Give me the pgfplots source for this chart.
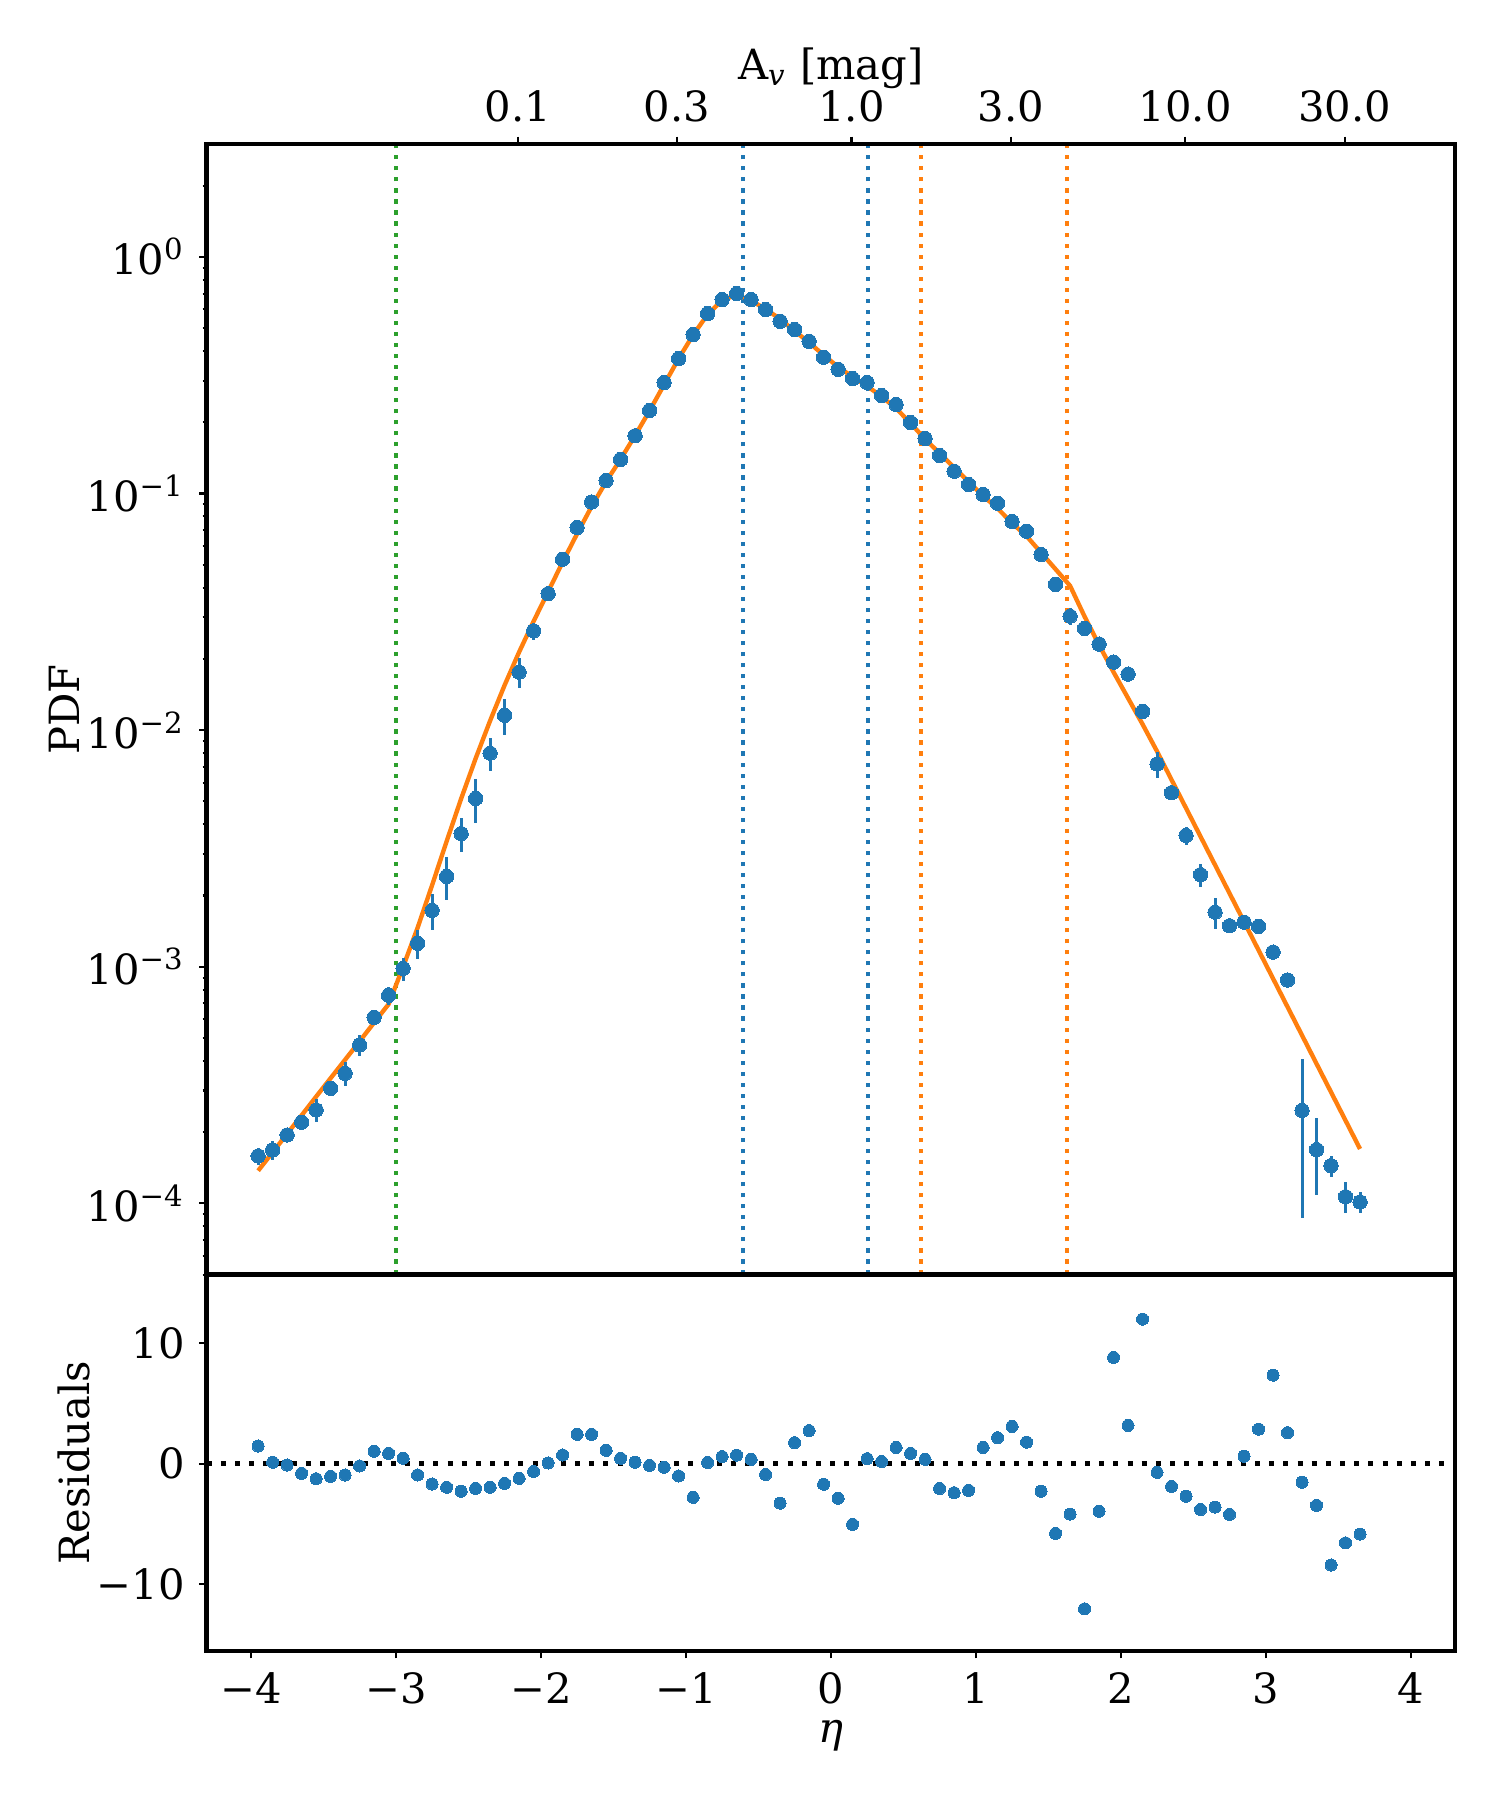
\documentclass[border=0pt]{standalone}
\usepackage{fontspec}
\setmainfont{DejaVu Serif}
\usepackage{pgfplots}
\pgfplotsset{compat=1.18}
\usepackage{pgfplotstable}
\definecolor{tabblue}{HTML}{1F77B4}
\definecolor{taborange}{HTML}{FF7F0E}
\definecolor{tabgreen}{HTML}{2CA02C}

\pgfplotstableread{
x y e
-3.95 1.586e-4 1.3e-5
-3.85 1.681e-4 1.6e-5
-3.75 1.945e-4 0.8e-5
-3.65 2.201e-4 1.0e-5
-3.55 2.481e-4 2.7e-5
-3.45 3.063e-4 1.7e-5
-3.35 3.544e-4 4.0e-5
-3.25 4.668e-4 4.8e-5
-3.15 6.111e-4 3.0e-5
-3.05 7.57e-4 6.5e-5
-2.95 9.84e-4 1.1e-4
-2.85 1.256e-3 1.8e-4
-2.75 1.731e-3 3.0e-4
-2.65 2.408e-3 5.0e-4
-2.55 3.653e-3 6.0e-4
-2.45 5.145e-3 1.1e-3
-2.35 7.99e-3 1.3e-3
-2.25 1.155e-2 2.0e-3
-2.15 1.758e-2 2.5e-3
-2.05 2.627e-2 2.2e-3
-1.95 3.772e-2 1.5e-3
-1.85 5.272e-2 1.2e-3
-1.75 7.18e-2 1.0e-3
-1.65 9.21e-2 1.2e-3
-1.55 0.1135 1.5e-3
-1.45 0.1393 2e-3
-1.35 0.1754 2e-3
-1.25 0.2244 2e-3
-1.15 0.2944 2e-3
-1.05 0.3718 3e-3
-0.95 0.4695 4e-3
-0.85 0.5761 4e-3
-0.75 0.6602 4e-3
-0.65 0.6998 4e-3
-0.55 0.6602 4e-3
-0.45 0.5988 4e-3
-0.35 0.5344 3e-3
-0.25 0.4931 3e-3
-0.15 0.4398 3e-3
-0.05 0.3764 3e-3
0.05 0.3350 3e-3
0.15 0.3060 2e-3
0.25 0.2944 2e-3
0.35 0.2594 2e-3
0.45 0.2377 2e-3
0.55 0.1995 2e-3
0.65 0.1708 2e-3
0.75 0.1447 2e-3
0.85 0.1242 1.5e-3
0.95 0.1091 1.5e-3
1.05 0.0990 1.5e-3
1.15 0.0910 1.5e-3
1.25 0.0761 1.5e-3
1.35 0.0693 1.5e-3
1.45 0.0552 1.2e-3
1.55 0.0413 1.0e-3
1.65 0.0303 2.5e-3
1.75 0.0269 5e-4
1.85 0.0231 4e-4
1.95 0.01938 2e-4
2.05 0.01724 1.2e-3
2.15 0.01199 1.2e-4
2.25 7.19e-3 9e-4
2.35 5.44e-3 2e-4
2.45 3.59e-3 3.2e-4
2.55 2.45e-3 2.7e-4
2.65 1.70e-3 2.6e-4
2.75 1.49e-3 1.0e-4
2.85 1.543e-3 8e-5
2.95 1.48e-3 8e-5
3.05 1.153e-3 5e-5
3.15 8.79e-4 6e-5
3.25 2.47e-4 1.6e-4
3.35 1.687e-4 6e-5
3.45 1.443e-4 1.5e-5
3.55 1.067e-4 1.6e-5
3.65 1.013e-4 1.0e-5
}\pdfdata

\pgfplotstableread{
x y
-3.95 1.374e-4
-3.85 1.644e-4
-3.75 1.968e-4
-3.65 2.355e-4
-3.55 2.825e-4
-3.45 3.381e-4
-3.35 4.046e-4
-3.25 4.842e-4
-3.15 5.808e-4
-3.05 6.950e-4
-2.95 1.000e-3
-2.85 1.462e-3
-2.75 2.213e-3
-2.65 3.388e-3
-2.55 5.129e-3
-2.45 7.586e-3
-2.35 1.096e-2
-2.25 1.549e-2
-2.15 2.138e-2
-2.05 2.884e-2
-1.95 3.846e-2
-1.85 5.129e-2
-1.75 6.761e-2
-1.65 8.810e-2
-1.55 0.1122
-1.45 0.1396
-1.35 0.1758
-1.25 0.2239
-1.15 0.2884
-1.05 0.3715
-0.95 0.4677
-0.85 0.5715
-0.75 0.6546
-0.65 0.6918
-0.55 0.6531
-0.45 0.6026
-0.35 0.5458
-0.25 0.4864
-0.15 0.4345
-0.05 0.3846
0.05 0.3428
0.15 0.3112
0.25 0.2844
0.35 0.2570
0.45 0.2291
0.55 0.1982
0.65 0.1698
0.75 0.1479
0.85 0.1288
0.95 0.1122
1.05 0.09772
1.15 0.08650
1.25 0.07499
1.35 0.06607
1.45 0.05623
1.55 0.04786
1.65 0.04074
1.75 0.03020
1.85 0.02291
1.95 0.01758
2.05 0.01365
2.15 0.01059
2.25 8.128e-3
2.35 6.166e-3
2.45 4.677e-3
2.55 3.548e-3
2.65 2.692e-3
2.75 2.042e-3
2.85 1.549e-3
2.95 1.175e-3
3.05 8.913e-4
3.15 6.761e-4
3.25 5.129e-4
3.35 3.890e-4
3.45 2.951e-4
3.55 2.239e-4
3.65 1.698e-4
}\modeldata

\pgfplotstableread{
x r
-3.95 1.47
-3.85 0.12
-3.75 -0.11
-3.65 -0.80
-3.55 -1.25
-3.45 -1.05
-3.35 -0.94
-3.25 -0.19
-3.15 1.03
-3.05 0.86
-2.95 0.45
-2.85 -0.94
-2.75 -1.69
-2.65 -1.96
-2.55 -2.29
-2.45 -2.05
-2.35 -1.96
-2.25 -1.63
-2.15 -1.22
-2.05 -0.64
-1.95 0.06
-1.85 0.72
-1.75 2.44
-1.65 2.44
-1.55 1.11
-1.45 0.45
-1.35 0.12
-1.25 -0.14
-1.15 -0.30
-1.05 -1.02
-0.95 -2.80
-0.85 0.10
-0.75 0.59
-0.65 0.71
-0.55 0.36
-0.45 -0.90
-0.35 -3.28
-0.25 1.75
-0.15 2.75
-0.05 -1.71
0.05 -2.88
0.15 -5.04
0.25 0.42
0.35 0.18
0.45 1.35
0.55 0.86
0.65 0.36
0.75 -2.06
0.85 -2.41
0.95 -2.21
1.05 1.35
1.15 2.16
1.25 3.10
1.35 1.79
1.45 -2.29
1.55 -5.79
1.65 -4.19
1.75 -12.06
1.85 -3.96
1.95 8.84
2.05 3.18
2.15 12.02
2.25 -0.72
2.35 -1.89
2.45 -2.70
2.55 -3.81
2.65 -3.61
2.75 -4.22
2.85 0.62
2.95 2.87
3.05 7.36
3.15 2.58
3.25 -1.54
3.35 -3.46
3.45 -8.42
3.55 -6.58
3.65 -5.85
}\resdata

\begin{document}
\begin{tikzpicture}
\useasboundingbox (0,0) rectangle (360bp,432bp);
\pgfplotsset{
  common/.style={
    scale only axis, width=299.6bp,
    xmin=-4.305, xmax=4.305,
    axis line style={line width=1.12bp},
    every tick/.style={line width=0.5bp, black},
    major tick length=1.75bp, minor tick length=1bp,
    tick align=outside,
    ticklabel style={font=\fontsize{10bp}{12bp}\selectfont},
    label style={font=\fontsize{10bp}{12bp}\selectfont},
    /pgf/number format/assume math mode=true,
  }
}
% ---------- main panel ----------
\begin{axis}[common, at={(49.6bp,126.1bp)}, anchor=south west, height=271.34bp,
  ymode=log, ymin=5e-5, ymax=3,
  xtick=\empty,
  ytick={1e-4,1e-3,1e-2,1e-1,1},
  yticklabels={10\textsuperscript{−4},10\textsuperscript{−3},10\textsuperscript{−2},10\textsuperscript{−1},10\textsuperscript{0}},
  minor ytick={5e-5,6e-5,7e-5,8e-5,9e-5,2e-4,3e-4,4e-4,5e-4,6e-4,7e-4,8e-4,9e-4,2e-3,3e-3,4e-3,5e-3,6e-3,7e-3,8e-3,9e-3,2e-2,3e-2,4e-2,5e-2,6e-2,7e-2,8e-2,9e-2,0.2,0.3,0.4,0.5,0.6,0.7,0.8,0.9,2},
  ytick pos=left,
  ylabel={PDF},
  ylabel style={at={(axis description cs:-0.114,0.5)}, anchor=center},
]
\addplot[tabgreen, line width=1bp, dash pattern=on 1bp off 1.65bp] coordinates {(-3.0,5e-5) (-3.0,3)};
\addplot[tabblue, line width=1bp, dash pattern=on 1bp off 1.65bp] coordinates {(-0.607,5e-5) (-0.607,3)};
\addplot[tabblue, line width=1bp, dash pattern=on 1bp off 1.65bp] coordinates {(0.259,5e-5) (0.259,3)};
\addplot[taborange, line width=1bp, dash pattern=on 1bp off 1.65bp] coordinates {(0.621,5e-5) (0.621,3)};
\addplot[taborange, line width=1bp, dash pattern=on 1bp off 1.65bp] coordinates {(1.630,5e-5) (1.630,3)};
\addplot[taborange, line width=1.05bp] table[x=x, y=y] {\modeldata};
\addplot[only marks, mark=*, mark size=1.72bp, mark options={fill=tabblue, draw=tabblue, line width=0pt},
  error bars/.cd, y dir=both, y explicit, error mark=none,
  error bar style={line width=0.7bp, tabblue}]
  table[x=x, y=y, y error=e] {\pdfdata};
\end{axis}
% ---------- top A_v axis ----------
\begin{axis}[common, at={(49.6bp,126.1bp)}, anchor=south west, height=271.34bp,
  ymin=0, ymax=1,
  axis x line*=top, axis y line=none,
  xtick={-2.1601,-1.0615,0.1425,1.2411,2.4451,3.5437},
  xticklabels={0.1,0.3,1.0,3.0,10.0,30.0},
  xlabel={A\textsubscript{\textit{v}} [mag]},
  xlabel style={at={(axis description cs:0.5,1.067)}, anchor=center},
]
\end{axis}
% ---------- residuals ----------
\begin{axis}[common, at={(49.6bp,35.76bp)}, anchor=south west, height=90.34bp,
  ymin=-15.57, ymax=15.72,
  xtick={-4,-3,-2,-1,0,1,2,3,4},
  xticklabels={−4,−3,−2,−1,0,1,2,3,4},
  ytick={-10,0,10},
  yticklabels={−10,0,10},
  xtick pos=lower, ytick pos=left,
  xlabel={\textit{η}},
  xlabel style={at={(axis description cs:0.5,-0.225)}, anchor=center},
  ylabel={Residuals},
  ylabel style={at={(axis description cs:-0.106,0.5)}, anchor=center},
]
\addplot[black, line width=1.2bp, dash pattern=on 1.2bp off 2.2bp] coordinates {(-4.305,0) (4.305,0)};
\addplot[only marks, mark=*, mark size=1.45bp, mark options={fill=tabblue, draw=tabblue, line width=0pt}]
  table[x=x, y=r] {\resdata};
\end{axis}
\end{tikzpicture}
\end{document}
